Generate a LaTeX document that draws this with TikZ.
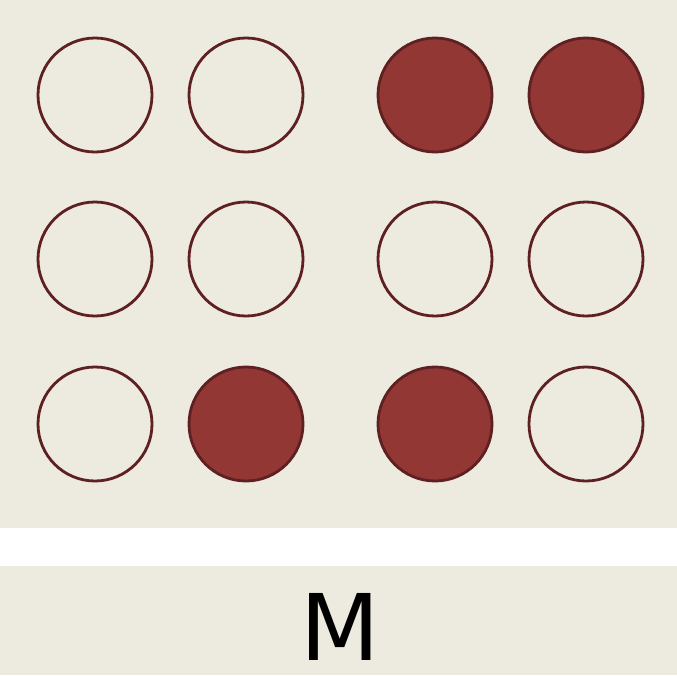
\documentclass[tikz,border=0pt]{standalone}
\usepackage{fontspec}
\newfontfamily\labelfont{DejaVu Sans}

\definecolor{paper}{HTML}{EDEAE0}
\definecolor{dotfill}{HTML}{933735}
\definecolor{dotline}{HTML}{5E2020}

\tikzset{
    dot/.style = {circle, draw = dotline, line width = 2.8pt, minimum size = 114pt, inner sep = 0pt},
    dotset/.style = {dot, fill = dotfill},
}

\begin{document}
\begin{tikzpicture}[x = 1pt, y = -1pt]
    \useasboundingbox (0,0) rectangle (677,675);
    \fill[white] (0,0) rectangle (677,675);
    \fill[paper] (0,0) rectangle (677,528);
    \fill[paper] (0,566) rectangle (677,675);
    % left cell
    \node[dot](L11) at (95,95){};
    \node[dot](L12) at (246,95){};
    \node[dot](L21) at (95,259){};
    \node[dot](L22) at (246,259){};
    \node[dot](L31) at (95,424){};
    \node[dotset](L32) at (246,424){};
    % right cell
    \node[dotset](R11) at (435,95){};
    \node[dotset](R12) at (586,95){};
    \node[dot](R21) at (435,259){};
    \node[dot](R22) at (586,259){};
    \node[dotset](R31) at (435,424){};
    \node[dot](R32) at (586,424){};
    % caption
    \node[font = \labelfont\fontsize{92}{92}\selectfont, inner sep = 0pt, text depth = 0pt, anchor = base](LABEL) at (340,660){M};
\end{tikzpicture}
\end{document}
